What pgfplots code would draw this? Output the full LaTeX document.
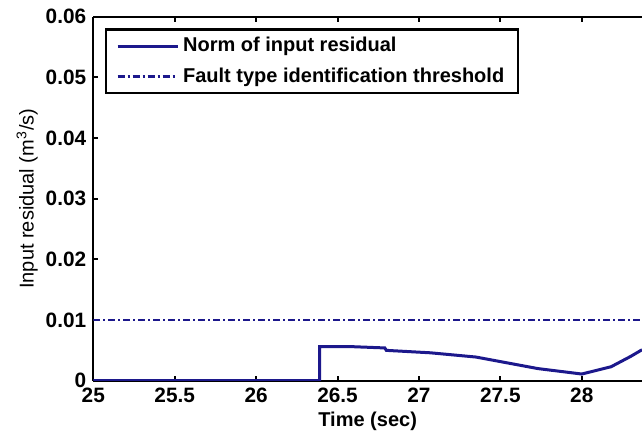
\documentclass[border=0pt]{standalone}
\usepackage{fontspec}
\setmainfont{Liberation Sans}
\usepackage{pgfplots}
\pgfplotsset{compat=1.18}
\definecolor{mblue}{RGB}{28,24,140}
\begin{document}
\begin{tikzpicture}
\path[use as bounding box] (-46.65pt,-26.65pt) rectangle (274.35pt,190.35pt);
\begin{axis}[
  at={(0,0)}, anchor=south west,
  scale only axis,
  width=274.35pt, height=182pt,
  xmin=25, xmax=28.37, ymin=0, ymax=0.06,
  axis x line*=box, axis y line*=left,
  axis line style={line width=1.1pt, black},
  every tick/.style={black, line width=1pt},
  major tick length=2.5pt,
  tick align=inside,
  scaled y ticks=false, scaled x ticks=false,
  xtick={25,25.5,26,26.5,27,27.5,28},
  xticklabels={25,25.5,26,26.5,27,27.5,28},
  ytick={0,0.01,0.02,0.03,0.04,0.05,0.06},
  yticklabels={0,0.01,0.02,0.03,0.04,0.05,0.06},
  tick label style={font=\fontsize{10.4}{12}\selectfont\bfseries},
  /pgf/number format/assume math mode=true,
  xlabel={\bfseries Time (sec)},
  ylabel={Input residual (m\textsuperscript{3}/s)},
  xlabel style={at={(axis description cs:0.5,0)}, anchor=center, yshift=-20.15pt},
  ylabel style={at={(axis description cs:-0.1203,0.5)}, anchor=center},
  legend style={at={(axis description cs:0,1)}, anchor=north west, xshift=5.85pt, yshift=-5.8pt,
    draw=black, line width=1.1pt, font=\bfseries, inner xsep=5pt, inner ysep=2pt,
    row sep=2.5pt},
  legend cell align=left,
  legend image code/.code={\draw[#1] (0pt,0pt) -- (30pt,0pt);},
]
\addplot[mblue, line width=1.5pt] coordinates {
(25,0) (26.39,0) (26.39,0.0056) (26.60,0.0056) (26.79,0.0054) (26.80,0.0050)
(27.07,0.0046) (27.35,0.0039) (27.73,0.0020) (28.0,0.0011) (28.18,0.0023)
(28.30,0.0040) (28.37,0.0051)};
\addlegendentry{Norm of input residual}
\addplot[mblue, line width=1.4pt, dash pattern=on 3.5pt off 1.5pt on 1pt off 1.5pt] coordinates {
(25,0.01) (28.37,0.01)};
\addlegendentry{Fault type identification threshold}
\end{axis}
\end{tikzpicture}
\end{document}
